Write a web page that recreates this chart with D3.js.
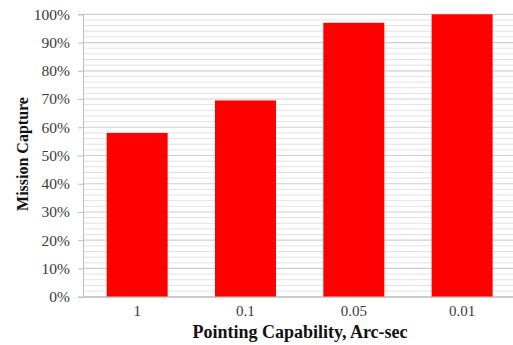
<!DOCTYPE html>
<html>
<head>
<meta charset="utf-8">
<script src="https://cdn.jsdelivr.net/npm/d3@7"></script>
<style>
  html, body { margin: 0; padding: 0; background: #fff; }
  svg { display: block; }
</style>
</head>
<body>
<svg id="chart" width="513" height="345"></svg>
<script>
// Pointing capability (arc-sec) versus share of missions captured
const categories = ["1", "0.1", "0.05", "0.01"];
const capture = [0.58, 0.695, 0.97, 1.0];
const yTicks = [0, 0.1, 0.2, 0.3, 0.4, 0.5, 0.6, 0.7, 0.8, 0.9, 1.0];

const svg = d3.select("#chart");
const margin = { left: 83, top: 14.3, bottom: 48.3 };
const plotW = 433.3;
const H = 345;
const serif = "'Liberation Serif', 'Times New Roman', serif";

const x = d3.scaleBand()
  .domain(categories)
  .range([margin.left, margin.left + plotW])
  .paddingInner(0.437)
  .paddingOuter(0.437 / 2);

const y = d3.scaleLinear()
  .domain([0, 1])
  .range([H - margin.bottom, margin.top]);

// minor grid every 2%
const minor = d3.range(0, 51).map(i => i / 50).filter(v => Math.round(v * 50) % 5 !== 0);
svg.append("g")
  .selectAll("line")
  .data(minor)
  .join("line")
  .attr("x1", margin.left).attr("x2", margin.left + plotW)
  .attr("y1", d => y(d)).attr("y2", d => y(d))
  .attr("stroke", "#e2e2e2").attr("stroke-width", 1);

// major grid every 10%
svg.append("g")
  .selectAll("line")
  .data(yTicks)
  .join("line")
  .attr("x1", margin.left).attr("x2", margin.left + plotW)
  .attr("y1", d => y(d)).attr("y2", d => y(d))
  .attr("stroke", "#cfcfcf").attr("stroke-width", 1.2);

// bars
svg.append("g")
  .selectAll("rect")
  .data(categories)
  .join("rect")
  .attr("x", d => x(d))
  .attr("width", x.bandwidth())
  .attr("y", (d, i) => y(capture[i]))
  .attr("height", (d, i) => y(0) - y(capture[i]))
  .attr("fill", "#ff0000");

// y axis
const yAxis = svg.append("g")
  .attr("transform", `translate(${margin.left},0)`)
  .call(d3.axisLeft(y).tickValues(yTicks).tickFormat(d3.format(".0%")).tickSize(5).tickPadding(8));
yAxis.select(".domain").attr("stroke", "#bdbdbd");
yAxis.selectAll(".tick line").attr("stroke", "#bdbdbd");
yAxis.selectAll("text")
  .attr("fill", "#3a3a3a")
  .style("font-family", serif)
  .style("font-size", "15.5px");

// x axis
const xAxis = svg.append("g")
  .attr("transform", `translate(0,${y(0)})`)
  .call(d3.axisBottom(x).tickSize(0).tickPadding(9));
xAxis.select(".domain").attr("stroke", "#bdbdbd");
xAxis.selectAll("text")
  .attr("fill", "#3a3a3a")
  .style("font-family", serif)
  .style("font-size", "15px");

// axis titles
svg.append("text")
  .attr("transform", `translate(28,154) rotate(-90)`)
  .attr("text-anchor", "middle")
  .style("font-family", serif)
  .style("font-size", "16px")
  .style("font-weight", "bold")
  .attr("fill", "#111")
  .text("Mission Capture");

svg.append("text")
  .attr("x", 300)
  .attr("y", 338)
  .attr("text-anchor", "middle")
  .style("font-family", serif)
  .style("font-size", "18px")
  .style("font-weight", "bold")
  .attr("fill", "#111")
  .text("Pointing Capability, Arc-sec");
</script>
</body>
</html>
